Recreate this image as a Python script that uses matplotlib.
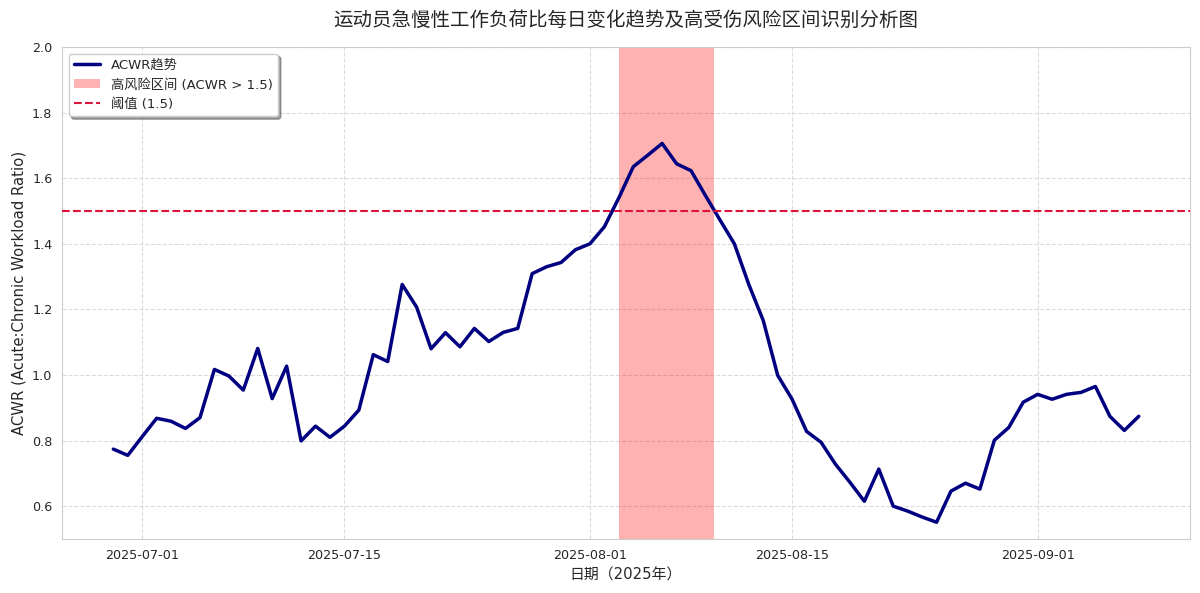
import numpy as np
import pandas as pd
import matplotlib
matplotlib.use('Agg')
import matplotlib.pyplot as plt
import seaborn as sns

# daily ACWR values, 2025-06-29 .. 2025-09-08
start_date = '2025-06-29'
acwr = [0.774, 0.755, 0.812, 0.868, 0.859, 0.837, 0.870, 1.017, 0.997, 0.954,
        1.081, 0.928, 1.027, 0.799, 0.844, 0.810, 0.844, 0.893, 1.062, 1.041,
        1.276, 1.207, 1.080, 1.129, 1.086, 1.142, 1.102, 1.130, 1.142, 1.309,
        1.330, 1.343, 1.382, 1.400, 1.452, 1.540, 1.635, 1.670, 1.706, 1.644,
        1.623, 1.547, 1.473, 1.400, 1.276, 1.166, 0.999, 0.926, 0.828, 0.795,
        0.728, 0.673, 0.615, 0.713, 0.600, 0.585, 0.567, 0.551, 0.646, 0.670,
        0.652, 0.801, 0.840, 0.917, 0.941, 0.926, 0.941, 0.947, 0.965, 0.874,
        0.831, 0.874]
dates = pd.date_range(start_date, periods=len(acwr), freq='D')

threshold = 1.5
risk_start = pd.Timestamp('2025-08-03')
risk_end = pd.Timestamp('2025-08-09 14:00')

title = '运动员急慢性工作负荷比每日变化趋势及高受伤风险区间识别分析图'
line_label = 'ACWR趋势'
span_label = '高风险区间 (ACWR > 1.5)'
thr_label = '阈值 (1.5)'
xlab = '日期（2025年）'
ylab = 'ACWR (Acute:Chronic Workload Ratio)'

sns.set_style('whitegrid')
plt.rcParams['font.family'] = ['DejaVu Sans', 'Noto Sans CJK SC']

fig, ax = plt.subplots(figsize=(12, 5.93), dpi=100)
fig.subplots_adjust(left=0.0517, right=0.9917, top=0.9207, bottom=0.0911)

ax.axvspan(risk_start, risk_end, color='red', alpha=0.3, lw=0, label=span_label, zorder=1)
ax.plot(dates, acwr, color='navy', lw=2.5, label=line_label, zorder=3)
ax.axhline(threshold, color='crimson', ls='--', lw=1.5, label=thr_label, zorder=4)

ax.set_ylim(0.5, 2.0)
ax.set_yticks(np.arange(0.6, 2.01, 0.2))
ax.grid(True, ls='--', alpha=0.7)
ax.tick_params(labelsize=9.2)

ax.set_title(title, fontsize=14, pad=15)
ax.set_xlabel(xlab, fontsize=10.7)
ax.set_ylabel(ylab, fontsize=10.7)

h, l = ax.get_legend_handles_labels()
order = [l.index(line_label), l.index(span_label), l.index(thr_label)]
ax.legend([h[i] for i in order], [l[i] for i in order], loc='upper left',
          fontsize=9.5, frameon=True, shadow=True)

fig.savefig('out.png', dpi=100)
